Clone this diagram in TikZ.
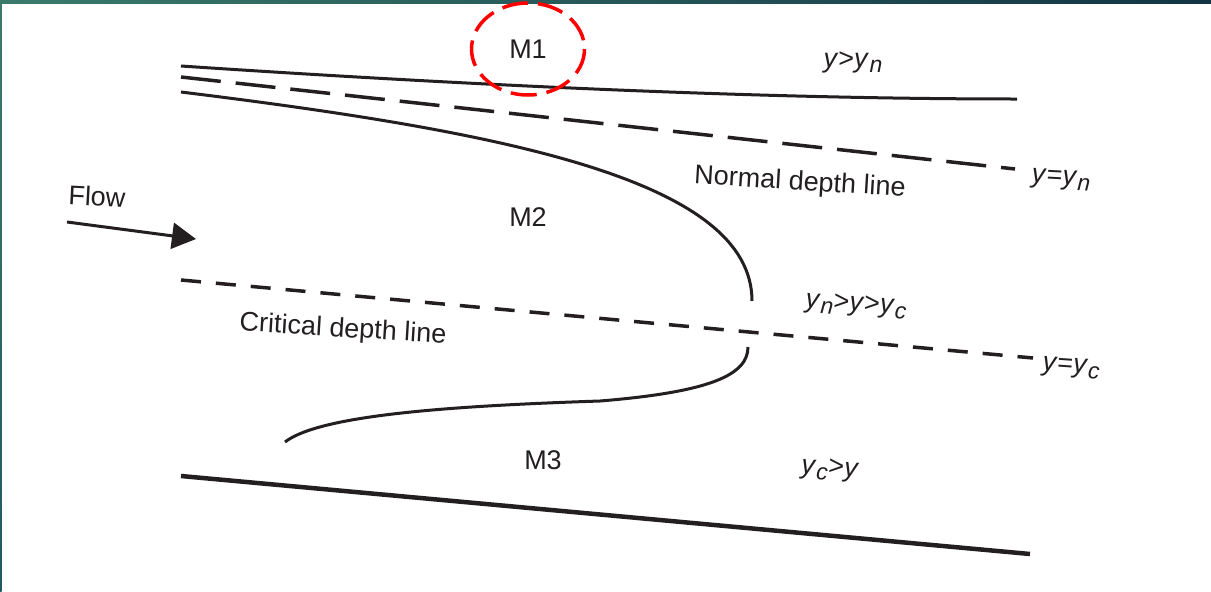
\documentclass[tikz,border=0pt]{standalone}
\usepackage{fontspec}
\setmainfont{Liberation Sans}
\usetikzlibrary{arrows.meta}
\definecolor{ink}{HTML}{231F20}
\definecolor{barL}{HTML}{3A7A6C}
\definecolor{barR}{HTML}{123444}
\definecolor{barB}{HTML}{1E5A5E}
\newcommand\yit{\textit{y}}
\newcommand\ysb[1]{\textit{y}\kern0.5pt\raisebox{-0.35ex}{\fontsize{23}{23}\selectfont\textit{#1}}}
\begin{document}
\begin{tikzpicture}[x=1pt,y=-1pt,
  solidline/.style={draw=ink,line width=3pt},
  bedline/.style={draw=ink,line width=4.5pt},
  normalline/.style={draw=ink,line width=3.5pt,dash pattern=on 40pt off 15pt},
  critline/.style={draw=ink,line width=3.5pt,dash pattern=on 20pt off 15pt},
  lbl/.style={text=ink,font=\fontsize{27}{32}\selectfont,inner sep=0pt},
  highlight/.style={draw=red,line width=3.5pt,dash pattern=on 26pt off 10pt}
]
\useasboundingbox (0,0) rectangle (1211,592);
\fill[white] (0,0) rectangle (1211,592);
\shade[left color=barL,right color=barR] (0,0) rectangle (1211,3.5);
\shade[top color=barL,bottom color=barB] (0,0) rectangle (1.5,592);

% water surface profiles and reference lines
\draw[solidline] (181,66) .. controls (450,84) and (750,99) .. (1017,99);
\draw[normalline] (181,77) -- (1015,169);
\draw[solidline] (181,92) .. controls (505,132) and (752,180) .. (752,301);
\draw[critline] (181,280) -- (1033,358);
\draw[solidline] (748,347) .. controls (748,375) and (710,392) .. (600,401)
                 .. controls (450,406) and (320,415) .. (285,442);
\draw[bedline] (181,476) -- (1030,554);

% flow arrow
\coordinate (flowstart) at (67,222);
\coordinate (flowend) at (196,239);
\draw[draw=ink,line width=3pt,-{Triangle[length=24pt,width=26pt]}] (flowstart) -- (flowend);

% labels
\node[lbl] (m1) at (528,49) {M1};
\node[lbl] (m2) at (528,217) {M2};
\node[lbl] (m3) at (543,460) {M3};
\node[lbl,rotate=-3] (flow) at (97,196) {Flow};
\node[lbl,rotate=-3.5] (ndl) at (800,183) {Normal depth line};
\node[lbl,rotate=-3.5] (cdl) at (343,330) {Critical depth line};
\node[lbl] (r1) at (853,62) {\yit>\ysb{n}};
\node[lbl,rotate=-3] (eqn) at (1061,180) {\yit=\ysb{n}};
\node[lbl,rotate=-4] (r2) at (856,306) {\ysb{n}>\yit>\ysb{c}};
\node[lbl,rotate=-4] (eqc) at (1071,368) {\yit=\ysb{c}};
\node[lbl,rotate=-4] (r3) at (830,470) {\ysb{c}>\yit};

% highlight around M1
\draw[highlight] (m1.center) ellipse [x radius=56.5, y radius=46];
\end{tikzpicture}
\end{document}
